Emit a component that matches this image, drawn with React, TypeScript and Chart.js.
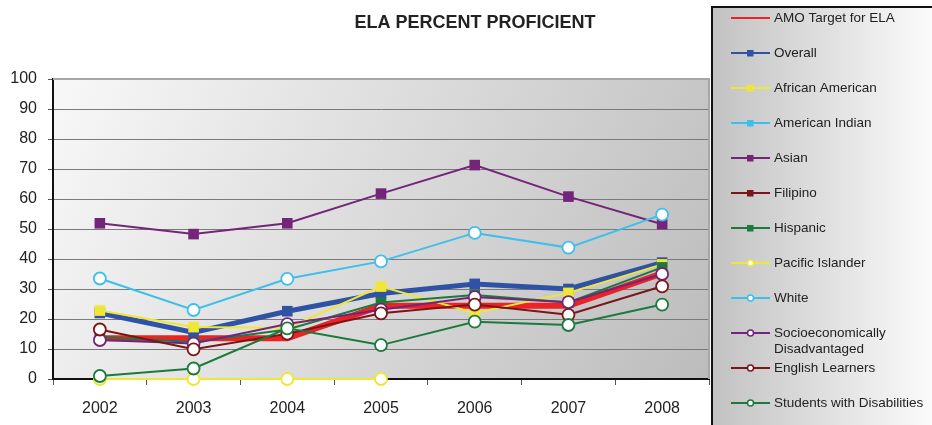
import React, { useEffect, useRef } from "react";
import { Chart, registerables } from "chart.js";

Chart.register(...registerables);

const years = ["2002", "2003", "2004", "2005", "2006", "2007", "2008"];
const amoTarget = [13.6, 13.6, 13.6, 24.4, 24.4, 24.4, 35.2];
const overall = [22, 15.5, 22.6, 28.5, 31.7, 30, 38.8];
const africanAmerican = [22.8, 17.3, 17, 30.8, 22, 28.7, 38.2];
const americanIndian = [null, null, null, null, null, null, null];
const asian = [51.9, 48.3, 51.9, 61.8, 71.3, 60.8, 51.6];
const filipino = [null, null, null, null, null, null, null];
const hispanic = [14, 12.3, 16.5, 25.5, 28, 25.5, 37.2];
const pacificIslander = [0, 0, 0, 0, null, null, null];
const white = [33.5, 23, 33.4, 39.2, 48.7, 43.8, 54.8];
const socioDisadvantaged = [13, 11.8, 18.3, 23.1, 27.3, 25.6, 35];
const englishLearners = [16.5, 9.9, 15.1, 21.9, 24.8, 21.4, 30.9];
const studentsWithDisabilities = [1, 3.5, 16.9, 11.3, 19.1, 18, 24.8];
const yTicks = [0, 10, 20, 30, 40, 50, 60, 70, 80, 90, 100];

const FONT = "'Liberation Sans', Arial, sans-serif";

type S = {
  label: string;
  data: (number | null)[];
  color: string;
  width: number;
  marker: "none" | "rect" | "circle";
};

const series: S[] = [
  { label: "AMO Target for ELA", data: amoTarget, color: "#ec2227", width: 6, marker: "none" },
  { label: "Overall", data: overall, color: "#2f52a4", width: 5, marker: "rect" },
  { label: "African American", data: africanAmerican, color: "#f0e636", width: 2, marker: "rect" },
  { label: "American Indian", data: americanIndian, color: "#3cbfeb", width: 2, marker: "rect" },
  { label: "Asian", data: asian, color: "#74257a", width: 2, marker: "rect" },
  { label: "Filipino", data: filipino, color: "#7b1518", width: 2, marker: "rect" },
  { label: "Hispanic", data: hispanic, color: "#1b7a3c", width: 2, marker: "rect" },
  { label: "Pacific Islander", data: pacificIslander, color: "#f0e636", width: 2, marker: "circle" },
  { label: "White", data: white, color: "#3cbfeb", width: 2, marker: "circle" },
  { label: "Socioeconomically\nDisadvantaged", data: socioDisadvantaged, color: "#74257a", width: 2, marker: "circle" },
  { label: "English Learners", data: englishLearners, color: "#7b1518", width: 2, marker: "circle" },
  { label: "Students with Disabilities", data: studentsWithDisabilities, color: "#1b7a3c", width: 2, marker: "circle" },
];

const decorPlugin = {
  id: "decor",
  beforeDraw(chart: any) {
    const { ctx, chartArea: a, width, height } = chart;
    ctx.save();
    ctx.fillStyle = "#ffffff";
    ctx.fillRect(0, 0, width, height);
    const g = ctx.createLinearGradient(a.left, a.top, a.right, a.bottom);
    g.addColorStop(0, "#f8f8f8");
    g.addColorStop(1, "#bcbcbc");
    ctx.fillStyle = g;
    ctx.fillRect(a.left, a.top, a.right - a.left, a.bottom - a.top);
    ctx.restore();
  },
  afterDraw(chart: any) {
    const { ctx, chartArea: a, width, height } = chart;
    ctx.save();
    // plot border top/right
    ctx.strokeStyle = "#a6a6a6";
    ctx.lineWidth = 2;
    ctx.beginPath();
    ctx.moveTo(a.left, a.top);
    ctx.lineTo(a.right, a.top);
    ctx.lineTo(a.right, a.bottom);
    ctx.stroke();

    // title
    ctx.fillStyle = "#222222";
    ctx.font = `bold 18px ${FONT}`;
    ctx.textAlign = "center";
    ctx.textBaseline = "middle";
    ctx.fillText("ELA PERCENT PROFICIENT", 475, 23);

    // legend box
    const lx = 712;
    const ly = 7;
    const lg = ctx.createLinearGradient(lx, 0, width, 0);
    lg.addColorStop(0, "#c2c2c2");
    lg.addColorStop(1, "#fbfbfb");
    ctx.fillStyle = lg;
    ctx.fillRect(lx, ly, width - lx, height - ly);
    ctx.strokeStyle = "#111111";
    ctx.lineWidth = 2;
    ctx.strokeRect(lx, ly, width - lx + 5, height - ly + 5);

    ctx.font = `13.5px ${FONT}`;
    ctx.textAlign = "left";
    ctx.textBaseline = "middle";
    series.forEach((s, i) => {
      const y = 18 + 35 * i;
      ctx.strokeStyle = s.color;
      ctx.lineWidth = 2;
      ctx.beginPath();
      ctx.moveTo(731, y);
      ctx.lineTo(770, y);
      ctx.stroke();
      if (s.marker === "rect") {
        ctx.fillStyle = s.color;
        ctx.fillRect(747, y - 3, 6.5, 6.5);
      } else if (s.marker === "circle") {
        ctx.fillStyle = "#ffffff";
        ctx.lineWidth = 1.5;
        ctx.beginPath();
        ctx.arc(750.5, y, 3, 0, Math.PI * 2);
        ctx.fill();
        ctx.stroke();
      }
      ctx.fillStyle = "#222222";
      s.label.split("\n").forEach((t, k) => {
        ctx.fillText(t, 774, y + k * 16);
      });
    });
    ctx.restore();
  },
};

export default function App() {
  const ref = useRef<HTMLCanvasElement | null>(null);
  useEffect(() => {
    if (!ref.current) return;
    const n = series.length;
    const chart = new Chart(ref.current, {
      type: "line",
      data: {
        labels: years,
        datasets: series.map((s, i) => ({
          label: s.label,
          data: s.data,
          borderColor: s.color,
          backgroundColor: s.marker === "circle" ? "#ffffff" : s.color,
          borderWidth: s.width,
          pointStyle: s.marker === "none" ? false : s.marker === "rect" ? "rect" : "circle",
          pointRadius: s.marker === "none" ? 0 : s.marker === "rect" ? 7.5 : 6,
          pointBorderWidth: s.marker === "circle" ? 1.8 : 0,
          pointBorderColor: s.color,
          pointBackgroundColor: s.marker === "circle" ? "#ffffff" : s.color,
          tension: 0,
          spanGaps: false,
          fill: false,
          clip: false,
          order: n - i,
        })) as any,
      },
      options: {
        animation: false,
        responsive: false,
        devicePixelRatio: 1,
        layout: { padding: { left: 0, right: 223, top: 79, bottom: 0 } },
        plugins: {
          legend: { display: false },
          title: { display: false },
          tooltip: { enabled: false },
        },
        scales: {
          x: {
            offset: true,
            afterFit: (s: any) => {
              s.height = 46;
            },
            grid: {
              display: true,
              offset: true,
              drawOnChartArea: false,
              drawTicks: true,
              tickLength: 6,
              tickColor: "#555555",
            },
            border: { display: true, color: "#111111", width: 2 },
            ticks: {
              color: "#222222",
              font: { family: FONT, size: 16 },
              padding: 14,
              maxRotation: 0,
            },
          },
          y: {
            min: 0,
            max: 100,
            afterFit: (s: any) => {
              s.width = 53;
            },
            afterBuildTicks: (s: any) => {
              s.ticks = yTicks.map((v) => ({ value: v }));
            },
            grid: {
              color: "#7a7a7a",
              lineWidth: 1,
              drawTicks: true,
              tickLength: 5,
              tickColor: "#555555",
            },
            border: { display: true, color: "#111111", width: 2 },
            ticks: {
              color: "#222222",
              font: { family: FONT, size: 16 },
              padding: 11,
            },
          },
        },
      },
      plugins: [decorPlugin],
    });
    return () => chart.destroy();
  }, []);
  return (
    <div style={{ position: "fixed", left: 0, top: 0, width: 932, height: 425 }}>
      <canvas ref={ref} width={932} height={425} style={{ display: "block" }} />
    </div>
  );
}
